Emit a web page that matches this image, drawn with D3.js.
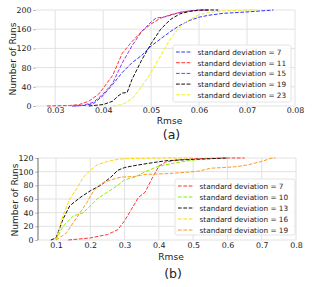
<!DOCTYPE html>
<html>
<head>
<meta charset="utf-8">
<script src="https://cdn.jsdelivr.net/npm/d3@7"></script>
<style>
  body { margin: 0; background: #fff; }
  svg { display: block; font-family: "DejaVu Sans", sans-serif; }
</style>
</head>
<body>
<div id="chart"></div>
<script>
// ---- data (a): rmse vs cumulative number of runs, 200 runs ----
var labelsA = ["standard deviation = 7", "standard deviation = 11", "standard deviation = 15",
               "standard deviation = 19", "standard deviation = 23"];
var colorsA = ["#3333ff", "#ff3333", "#9933ee", "#111111", "#eeee22"];
var sd7a  = [[0.0335,0],[0.036,1],[0.038,5],[0.04,22],[0.042,45],[0.044,70],[0.046,90],[0.048,105],[0.05,125],[0.052,140],[0.054,155],[0.056,168],[0.058,178],[0.06,185],[0.062,189],[0.065,193],[0.07,196],[0.0755,200]];
var sd11a = [[0.0283,0],[0.033,1],[0.035,3],[0.037,10],[0.039,24],[0.04,37],[0.042,64],[0.044,110],[0.046,134],[0.048,155],[0.05,171],[0.052,183],[0.054,190],[0.056,195],[0.058,198],[0.06,200],[0.062,200]];
var sd15a = [[0.034,0],[0.036,2],[0.038,8],[0.04,25],[0.042,48],[0.044,90],[0.046,125],[0.048,155],[0.05,175],[0.051,183],[0.053,186],[0.056,195],[0.058,198],[0.062,200]];
var sd19a = [[0.037,0],[0.04,3],[0.042,10],[0.043,20],[0.044,27],[0.045,28],[0.046,55],[0.048,95],[0.05,130],[0.052,160],[0.054,180],[0.056,192],[0.058,197],[0.06,200],[0.064,200]];
var sd23a = [[0.042,0],[0.044,3],[0.046,15],[0.048,40],[0.05,70],[0.052,105],[0.054,140],[0.056,165],[0.058,180],[0.06,190],[0.062,195],[0.065,198],[0.07,200],[0.072,200]];
var seriesA = [sd7a, sd11a, sd15a, sd19a, sd23a];
var xTicksA = [0.03, 0.04, 0.05, 0.06, 0.07, 0.08];
var yTicksA = [0, 40, 80, 120, 160, 200];

// ---- data (b): 120 runs ----
var labelsB = ["standard deviation = 7", "standard deviation = 10", "standard deviation = 13",
               "standard deviation = 16", "standard deviation = 19"];
var colorsB = ["#ff3333", "#88ee00", "#111111", "#ffd700", "#ff9922"];
var sd7b  = [[0.136,0],[0.2,3],[0.25,8],[0.28,15],[0.3,28],[0.32,45],[0.34,62],[0.36,70],[0.38,90],[0.4,108],[0.42,114],[0.45,117],[0.5,119],[0.6,120],[0.65,120]];
var sd10b = [[0.1,0],[0.12,20],[0.15,35],[0.18,40],[0.2,50],[0.22,60],[0.25,70],[0.28,80],[0.3,88],[0.33,92],[0.36,100],[0.4,108],[0.45,113],[0.5,117],[0.55,119]];
var sd13b = [[0.085,0],[0.1,3],[0.12,30],[0.14,50],[0.17,62],[0.2,72],[0.23,80],[0.26,92],[0.28,102],[0.3,106],[0.33,109],[0.38,113],[0.42,116],[0.5,118],[0.6,120]];
var sd16b = [[0.1,0],[0.12,35],[0.14,60],[0.16,75],[0.18,92],[0.2,102],[0.22,110],[0.25,115],[0.28,118],[0.3,119],[0.4,120],[0.5,120]];
var sd19b = [[0.1,0],[0.13,10],[0.15,25],[0.17,40],[0.19,55],[0.21,72],[0.23,82],[0.26,88],[0.29,92],[0.33,93],[0.36,96],[0.42,97],[0.48,99],[0.52,101],[0.55,105],[0.62,107],[0.66,110],[0.7,115],[0.73,120],[0.74,120]];
var seriesB = [sd7b, sd10b, sd13b, sd16b, sd19b];
var xTicksB = [0.1, 0.2, 0.3, 0.4, 0.5, 0.6, 0.7, 0.8];
var yTicksB = [0, 20, 40, 60, 80, 100, 120];

var width = 314, height = 287;
var svg = d3.select("#chart").append("svg").attr("width", width).attr("height", height);

// font size so that a sample string gets the given width
function fitSize(sample, target) {
  var t = svg.append("text").attr("font-size", "10px").text(sample);
  var w = t.node().getComputedTextLength();
  t.remove();
  return (10 * target / w).toFixed(2) + "px";
}
var tickFs = fitSize("0.03", 17.5);
var legFs = fitSize("standard deviation = 7", 84);
var labFs = fitSize("Rmse", 25.5);
var tagFs = "12.5px";

function panel(opt) {
  var x = d3.scaleLinear().domain(opt.xDomain).range([opt.left, opt.right]);
  var y = d3.scaleLinear().domain(opt.yDomain).range([opt.bottom, opt.top]);
  var g = svg.append("g");

  // grid
  g.selectAll(".gx").data(opt.xTicks).enter().append("line")
    .attr("x1", d => x(d)).attr("x2", d => x(d))
    .attr("y1", opt.top).attr("y2", opt.bottom)
    .attr("stroke", "#e2e2e2").attr("stroke-width", 1);
  g.selectAll(".gy").data(opt.yTicks).enter().append("line")
    .attr("x1", opt.left).attr("x2", opt.right)
    .attr("y1", d => y(d)).attr("y2", d => y(d))
    .attr("stroke", "#e2e2e2").attr("stroke-width", 1);

  // axes
  var xa = g.append("g").attr("transform", "translate(0," + opt.bottom + ")")
    .call(d3.axisBottom(x).tickValues(opt.xTicks).tickSize(0).tickPadding(opt.xPad).tickFormat(opt.xFmt));
  var ya = g.append("g").attr("transform", "translate(" + opt.left + ",0)")
    .call(d3.axisLeft(y).tickValues(opt.yTicks).tickSize(3).tickPadding(1.5));
  [xa, ya].forEach(function(a) {
    a.select(".domain").remove();
    a.selectAll("text").attr("font-size", tickFs).attr("fill", "#222").attr("font-family", "DejaVu Sans");
    a.selectAll(".tick line").attr("stroke", "#bbb");
  });
  if (opt.spine) {
    g.append("line").attr("x1", opt.left).attr("x2", opt.left).attr("y1", opt.top).attr("y2", opt.bottom)
      .attr("stroke", "#444").attr("stroke-width", 0.8);
  }

  // curves
  var line = d3.line().x(d => x(d[0])).y(d => y(d[1]));
  opt.series.forEach(function(s, i) {
    g.append("path").datum(s)
      .attr("d", line)
      .attr("fill", "none")
      .attr("stroke", opt.colors[i])
      .attr("stroke-width", 1)
      .attr("stroke-dasharray", "3.7,1.6");
  });

  // labels
  g.append("text").attr("x", (opt.left + opt.right) / 2 + 4).attr("y", opt.bottom + opt.rmseDy)
    .attr("text-anchor", "middle").attr("font-size", labFs).attr("fill", "#222").text("Rmse");
  g.append("text")
    .attr("transform", "translate(" + opt.ylabX + "," + ((opt.top + opt.bottom) / 2 + 1) + ") rotate(-90)")
    .attr("text-anchor", "middle").attr("font-size", labFs).attr("fill", "#222").text("Number of Runs");
  g.append("text").attr("x", (opt.left + opt.right) / 2 + 6).attr("y", opt.bottom + opt.tagDy)
    .attr("text-anchor", "middle").attr("font-size", tagFs).attr("fill", "#222").text(opt.tag);

  // legend
  var lg = g.append("g");
  lg.append("rect").attr("x", opt.lx).attr("y", opt.ly).attr("width", opt.lw).attr("height", opt.lh)
    .attr("rx", 2).attr("fill", "#fff").attr("fill-opacity", 0.85)
    .attr("stroke", "#ddd").attr("stroke-width", 0.8);
  opt.labels.forEach(function(l, i) {
    var yy = opt.ly + 7 + i * opt.lstep;
    lg.append("line").attr("x1", opt.lx + 3).attr("x2", opt.lx + 19).attr("y1", yy).attr("y2", yy)
      .attr("stroke", opt.colors[i]).attr("stroke-width", 1).attr("stroke-dasharray", "3.7,1.6");
    lg.append("text").attr("x", opt.lx + 24.5).attr("y", yy + 3)
      .attr("font-size", legFs).attr("fill", "#222").text(l);
  });
}

panel({
  xDomain: [0.026, 0.08], yDomain: [0, 200],
  left: 36, right: 295, top: 10, bottom: 106,
  xTicks: xTicksA, yTicks: yTicksA, xFmt: d3.format(".2f"), xPad: 1.5,
  series: seriesA, colors: colorsA, labels: labelsA,
  lx: 173, ly: 45, lw: 118, lh: 57, lstep: 10.7,
  ylabX: 16, rmseDy: 18, tagDy: 32.5, tag: "(a)", spine: false
});

panel({
  xDomain: [0.0475, 0.8], yDomain: [0, 120],
  left: 38, right: 296, top: 158, bottom: 240,
  xTicks: xTicksB, yTicks: yTicksB, xFmt: d3.format(".1f"), xPad: 2,
  series: seriesB, colors: colorsB, labels: labelsB,
  lx: 175, ly: 179, lw: 120, lh: 56, lstep: 11,
  ylabX: 18, rmseDy: 20, tagDy: 38, tag: "(b)", spine: true
});
</script>
</body>
</html>
